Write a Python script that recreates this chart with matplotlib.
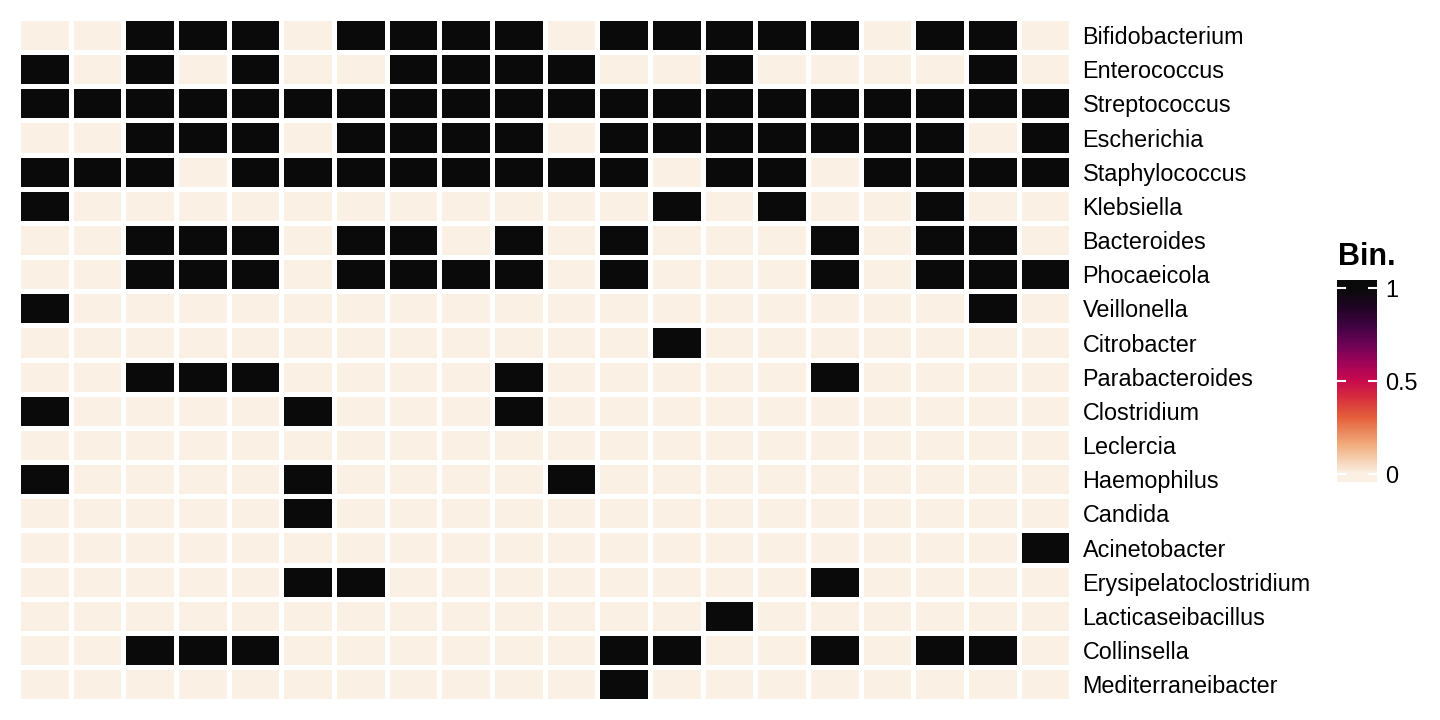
import matplotlib
matplotlib.use("Agg")
import numpy as np
import matplotlib.pyplot as plt
from matplotlib.colors import LinearSegmentedColormap

plt.rcParams['font.family'] = ['Liberation Sans', 'DejaVu Sans']

# genera shown on the right, top to bottom
genera = ["Bifidobacterium", "Enterococcus", "Streptococcus", "Escherichia",
          "Staphylococcus", "Klebsiella", "Bacteroides", "Phocaeicola",
          "Veillonella", "Citrobacter", "Parabacteroides", "Clostridium",
          "Leclercia", "Haemophilus", "Candida", "Acinetobacter",
          "Erysipelatoclostridium", "Lacticaseibacillus", "Collinsella",
          "Mediterraneibacter"]

# presence / absence per sample (20 samples, left to right)
bifidobacterium        = [0,0,1,1,1,0,1,1,1,1,0,1,1,1,1,1,0,1,1,0]
enterococcus           = [1,0,1,0,1,0,0,1,1,1,1,0,0,1,0,0,0,0,1,0]
streptococcus          = [1,1,1,1,1,1,1,1,1,1,1,1,1,1,1,1,1,1,1,1]
escherichia            = [0,0,1,1,1,0,1,1,1,1,0,1,1,1,1,1,1,1,0,1]
staphylococcus         = [1,1,1,0,1,1,1,1,1,1,1,1,0,1,1,0,1,1,1,1]
klebsiella             = [1,0,0,0,0,0,0,0,0,0,0,0,1,0,1,0,0,1,0,0]
bacteroides            = [0,0,1,1,1,0,1,1,0,1,0,1,0,0,0,1,0,1,1,0]
phocaeicola            = [0,0,1,1,1,0,1,1,1,1,0,1,0,0,0,1,0,1,1,1]
veillonella            = [1,0,0,0,0,0,0,0,0,0,0,0,0,0,0,0,0,0,1,0]
citrobacter            = [0,0,0,0,0,0,0,0,0,0,0,0,1,0,0,0,0,0,0,0]
parabacteroides        = [0,0,1,1,1,0,0,0,0,1,0,0,0,0,0,1,0,0,0,0]
clostridium            = [1,0,0,0,0,1,0,0,0,1,0,0,0,0,0,0,0,0,0,0]
leclercia              = [0,0,0,0,0,0,0,0,0,0,0,0,0,0,0,0,0,0,0,0]
haemophilus            = [1,0,0,0,0,1,0,0,0,0,1,0,0,0,0,0,0,0,0,0]
candida                = [0,0,0,0,0,1,0,0,0,0,0,0,0,0,0,0,0,0,0,0]
acinetobacter          = [0,0,0,0,0,0,0,0,0,0,0,0,0,0,0,0,0,0,0,1]
erysipelatoclostridium = [0,0,0,0,0,1,1,0,0,0,0,0,0,0,0,1,0,0,0,0]
lacticaseibacillus     = [0,0,0,0,0,0,0,0,0,0,0,0,0,1,0,0,0,0,0,0]
collinsella            = [0,0,1,1,1,0,0,0,0,0,0,1,1,0,0,1,0,1,1,0]
mediterraneibacter     = [0,0,0,0,0,0,0,0,0,0,0,1,0,0,0,0,0,0,0,0]

data = np.array([bifidobacterium, enterococcus, streptococcus, escherichia,
                 staphylococcus, klebsiella, bacteroides, phocaeicola,
                 veillonella, citrobacter, parabacteroides, clostridium,
                 leclercia, haemophilus, candida, acinetobacter,
                 erysipelatoclostridium, lacticaseibacillus, collinsella,
                 mediterraneibacter])

# linen -> orange -> crimson -> purple -> black
cmap = LinearSegmentedColormap.from_list("bin_map", [
    (0.0, '#FBF0E4'), (0.15, '#F1AE7E'), (0.3, '#E5603C'),
    (0.42, '#D5283F'), (0.5, '#C80A4E'), (0.6, '#9E045A'),
    (0.7, '#6A0355'), (0.8, '#3E0340'), (0.9, '#1E0522'),
    (1.0, '#0A0A0A')])

fig = plt.figure(figsize=(14.4, 7.2), dpi=100)
ax = fig.add_axes([0.0126, 0.026, 0.7314, 0.949])

nrow, ncol = data.shape
ax.pcolormesh(np.arange(ncol + 1), np.arange(nrow + 1), data, cmap=cmap,
              vmin=0, vmax=1, edgecolors='white', linewidth=3.6)
ax.set_xlim(0, ncol)
ax.set_ylim(nrow, 0)
ax.set_xticks([])
ax.yaxis.tick_right()
ax.set_yticks(np.arange(nrow) + 0.5)
ax.set_yticklabels(genera, fontsize=16.8)
ax.tick_params(axis='y', length=0, pad=8)
for s in ax.spines.values():
    s.set_visible(False)

# legend colour bar, ggplot style
cax = fig.add_axes([1337 / 1440, 1 - 482 / 720, 40 / 1440, 202 / 720])
lo, hi = -0.045, 1.045
grad = np.linspace(lo, hi, 300).reshape(-1, 1)
cax.imshow(grad, cmap=cmap, vmin=0, vmax=1, aspect='auto', origin='lower',
           extent=[0, 1, lo, hi])
cax.set_xlim(0, 1)
cax.set_ylim(lo, hi)
cax.set_xticks([])
ticks = [0, 0.5, 1]
for t in ticks:
    cax.plot([0, 0.2], [t, t], color='white', lw=1.5)
    cax.plot([0.8, 1], [t, t], color='white', lw=1.5)
cax.yaxis.tick_right()
cax.set_yticks(ticks)
cax.set_yticklabels(["0", "0.5", "1"], fontsize=16.8)
cax.tick_params(axis='y', length=0, pad=6)
for s in cax.spines.values():
    s.set_visible(False)

fig.text(1338 / 1440, 1 - 265 / 720, "Bin.", fontsize=22, fontweight='bold',
         ha='left', va='baseline')

fig.savefig("out.png", dpi=100)
